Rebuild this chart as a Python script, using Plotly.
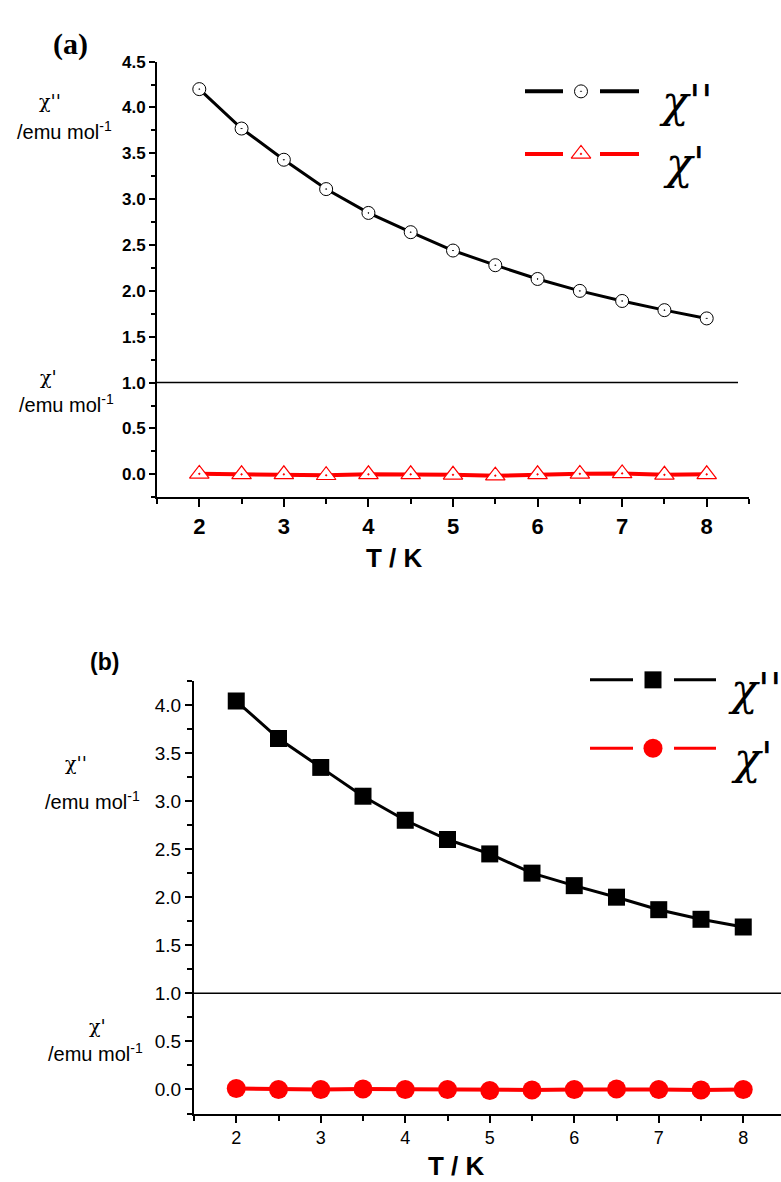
import plotly.graph_objects as go

SW, SH = 781, 1182       # screen size
OFF = 0
W, H = SW - OFF, SH - OFF

# ---- data ----
T = [2, 2.5, 3, 3.5, 4, 4.5, 5, 5.5, 6, 6.5, 7, 7.5, 8]
chi2_a = [4.20, 3.77, 3.43, 3.11, 2.85, 2.64, 2.44, 2.28, 2.13, 2.00, 1.89, 1.79, 1.70]
chi1_a = [0.005, 0.0, 0.0, -0.01, 0.0, 0.0, -0.005, -0.015, 0.0, 0.005, 0.01, -0.005, 0.0]
chi2_b = [4.04, 3.65, 3.35, 3.05, 2.80, 2.60, 2.45, 2.25, 2.12, 2.00, 1.87, 1.77, 1.69]
chi1_b = [0.01, 0.0, 0.0, 0.005, 0.0, 0.0, -0.01, -0.005, 0.0, 0.005, 0.0, -0.005, 0.0]
x_ticks = [2, 3, 4, 5, 6, 7, 8]
ya_ticks = [0.0, 0.5, 1.0, 1.5, 2.0, 2.5, 3.0, 3.5, 4.0, 4.5]
yb_ticks = [0.0, 0.5, 1.0, 1.5, 2.0, 2.5, 3.0, 3.5, 4.0]


def px(x):
    return (x - OFF) / W


def py(y):
    return 1 - (y - OFF) / H


fig = go.Figure()

# panel (a)
fig.add_trace(go.Scatter(x=T, y=chi2_a, mode="lines+markers", xaxis="x", yaxis="y",
                         line=dict(color="black", width=3),
                         marker=dict(symbol="circle-dot", size=13, color="white",
                                     line=dict(color="black", width=1))))
fig.add_trace(go.Scatter(x=T, y=chi1_a, mode="lines+markers", xaxis="x", yaxis="y",
                         line=dict(color="red", width=4),
                         marker=dict(symbol="triangle-up-dot", size=17, color="white",
                                     line=dict(color="red", width=1.2))))
# panel (b)
fig.add_trace(go.Scatter(x=T, y=chi2_b, mode="lines+markers", xaxis="x2", yaxis="y2",
                         line=dict(color="black", width=3),
                         marker=dict(symbol="square", size=17, color="black")))
fig.add_trace(go.Scatter(x=T, y=chi1_b, mode="lines+markers", xaxis="x2", yaxis="y2",
                         line=dict(color="red", width=4),
                         marker=dict(symbol="circle", size=19, color="red")))

# manual legends on pixel overlay axis (screen pixel coordinates)
def leg(y, xs, xm, color, width, marker):
    fig.add_trace(go.Scatter(x=[xs[0], xs[1], None, xs[2], xs[3]], y=[y, y, None, y, y],
                             mode="lines", xaxis="x3", yaxis="y3",
                             line=dict(color=color, width=width)))
    fig.add_trace(go.Scatter(x=[xm], y=[y], mode="markers", xaxis="x3", yaxis="y3",
                             marker=marker))

leg(83, (525, 563, 600, 639), 581, "black", 4,
    dict(symbol="circle-dot", size=13, color="white", line=dict(color="black", width=1)))
leg(146, (525, 563, 600, 639), 581, "red", 4,
    dict(symbol="triangle-up-dot", size=17, color="white", line=dict(color="red", width=1.2)))
leg(676, (590, 633, 674, 716), 653, "black", 3,
    dict(symbol="square", size=17, color="black"))
leg(745, (590, 633, 674, 716), 653, "red", 3,
    dict(symbol="circle", size=19, color="red"))

bold = dict(family="Liberation Sans, Arial", size=17, color="black", weight="bold")
reg = dict(family="Liberation Sans, Arial", size=18, color="black")

axcommon = dict(showline=True, linecolor="black", linewidth=2, ticks="outside",
                tickcolor="black", tickwidth=2, showgrid=False, zeroline=False)

xb_end = 1.5 + (SW - 194) / 84.5

fig.update_layout(
    autosize=True, plot_bgcolor="rgba(0,0,0,0)", paper_bgcolor="white",
    margin=dict(l=0, r=0, t=0, b=0), showlegend=False,
    xaxis=dict(domain=[px(157), px(749)], range=[1.5, 8.5], anchor="y",
               tickvals=x_ticks, ticklen=8,
               tickfont=dict(family="Liberation Sans, Arial", size=22, color="black", weight="bold"),
               minor=dict(dtick=0.5, tick0=0, ticklen=5, tickcolor="black", tickwidth=2, ticks="outside"),
               **axcommon),
    yaxis=dict(domain=[py(492), py(53)], range=[-0.25, 4.5], anchor="x",
               tickvals=ya_ticks, ticktext=[f"{v:.1f}" for v in ya_ticks], ticklen=6,
               tickfont=bold,
               minor=dict(dtick=0.25, tick0=0, ticklen=4, tickcolor="black", tickwidth=2, ticks="outside"),
               **axcommon),
    xaxis2=dict(domain=[px(194), 1.0], range=[1.5, xb_end], anchor="y2",
                tickvals=x_ticks, ticklen=7, tickfont=reg,
                minor=dict(dtick=0.5, tick0=0, ticklen=5, tickcolor="black", tickwidth=2, ticks="outside"),
                **axcommon),
    yaxis2=dict(domain=[py(1113), py(677)], range=[-0.25, 4.25], anchor="x2",
                tickvals=yb_ticks, ticktext=[f"{v:.1f}" for v in yb_ticks], ticklen=7,
                tickfont=dict(family="Liberation Sans, Arial", size=19, color="black"),
                minor=dict(dtick=0.25, tick0=0, ticklen=5, tickcolor="black", tickwidth=2, ticks="outside"),
                **axcommon),
    xaxis3=dict(domain=[0, 1], range=[OFF, SW], visible=False, anchor="y3", fixedrange=True),
    yaxis3=dict(domain=[0, 1], range=[SH, OFF], visible=False, anchor="x3", fixedrange=True),
)

# horizontal lines at 1.0
fig.add_shape(type="line", xref="x", yref="y", x0=1.5, x1=8.37, y0=1.0, y1=1.0,
              line=dict(color="black", width=1.5))
fig.add_shape(type="line", xref="x2", yref="y2", x0=1.5, x1=xb_end, y0=1.0, y1=1.0,
              line=dict(color="black", width=1.5))

def ann(text, x, y, font):
    fig.add_annotation(text=text, x=px(x), y=py(y), xref="paper", yref="paper",
                       xanchor="center", yanchor="middle", showarrow=False, font=font)

serif_b = dict(family="Liberation Serif, Times New Roman", size=30, color="black", weight="bold")
lab = dict(family="Liberation Sans, Arial", size=20, color="black")
chi_small = dict(family="DejaVu Serif", size=19, color="black")
chi_big = dict(family="DejaVu Serif", size=44, color="black", style="italic")
title_f = dict(family="Liberation Sans, Arial", size=26, color="black", weight="bold")

ann("(a)", 70, 35, serif_b)
ann("(b)", 104, 658, dict(family="Liberation Sans, Arial", size=23, color="black", weight="bold"))

ann("χ''", 50, 93, chi_small)
ann("/emu mol<sup>-1</sup>", 64, 122, lab)
ann("χ'", 48, 371, chi_small)
ann("/emu mol<sup>-1</sup>", 66, 398, lab)

ann("χ''", 76, 760, chi_small)
ann("/emu mol<sup>-1</sup>", 92, 798, lab)
ann("χ'", 97, 1025, chi_small)
ann("/emu mol<sup>-1</sup>", 95, 1052, lab)

ann("T / K", 395, 553, title_f)
ann("T / K", 457, 1166, title_f)

ann("χ''", 686, 93, chi_big)
ann("χ'", 684, 156, chi_big)
ann("χ''", 755, 686, chi_big)
ann("χ'", 752, 755, chi_big)

# div pinned to the page's top-left corner at full window size
fig.write_html("out.html", config={"displayModeBar": False}, default_width="781px",
               default_height="1182px; position:absolute; left:0; top:0")
